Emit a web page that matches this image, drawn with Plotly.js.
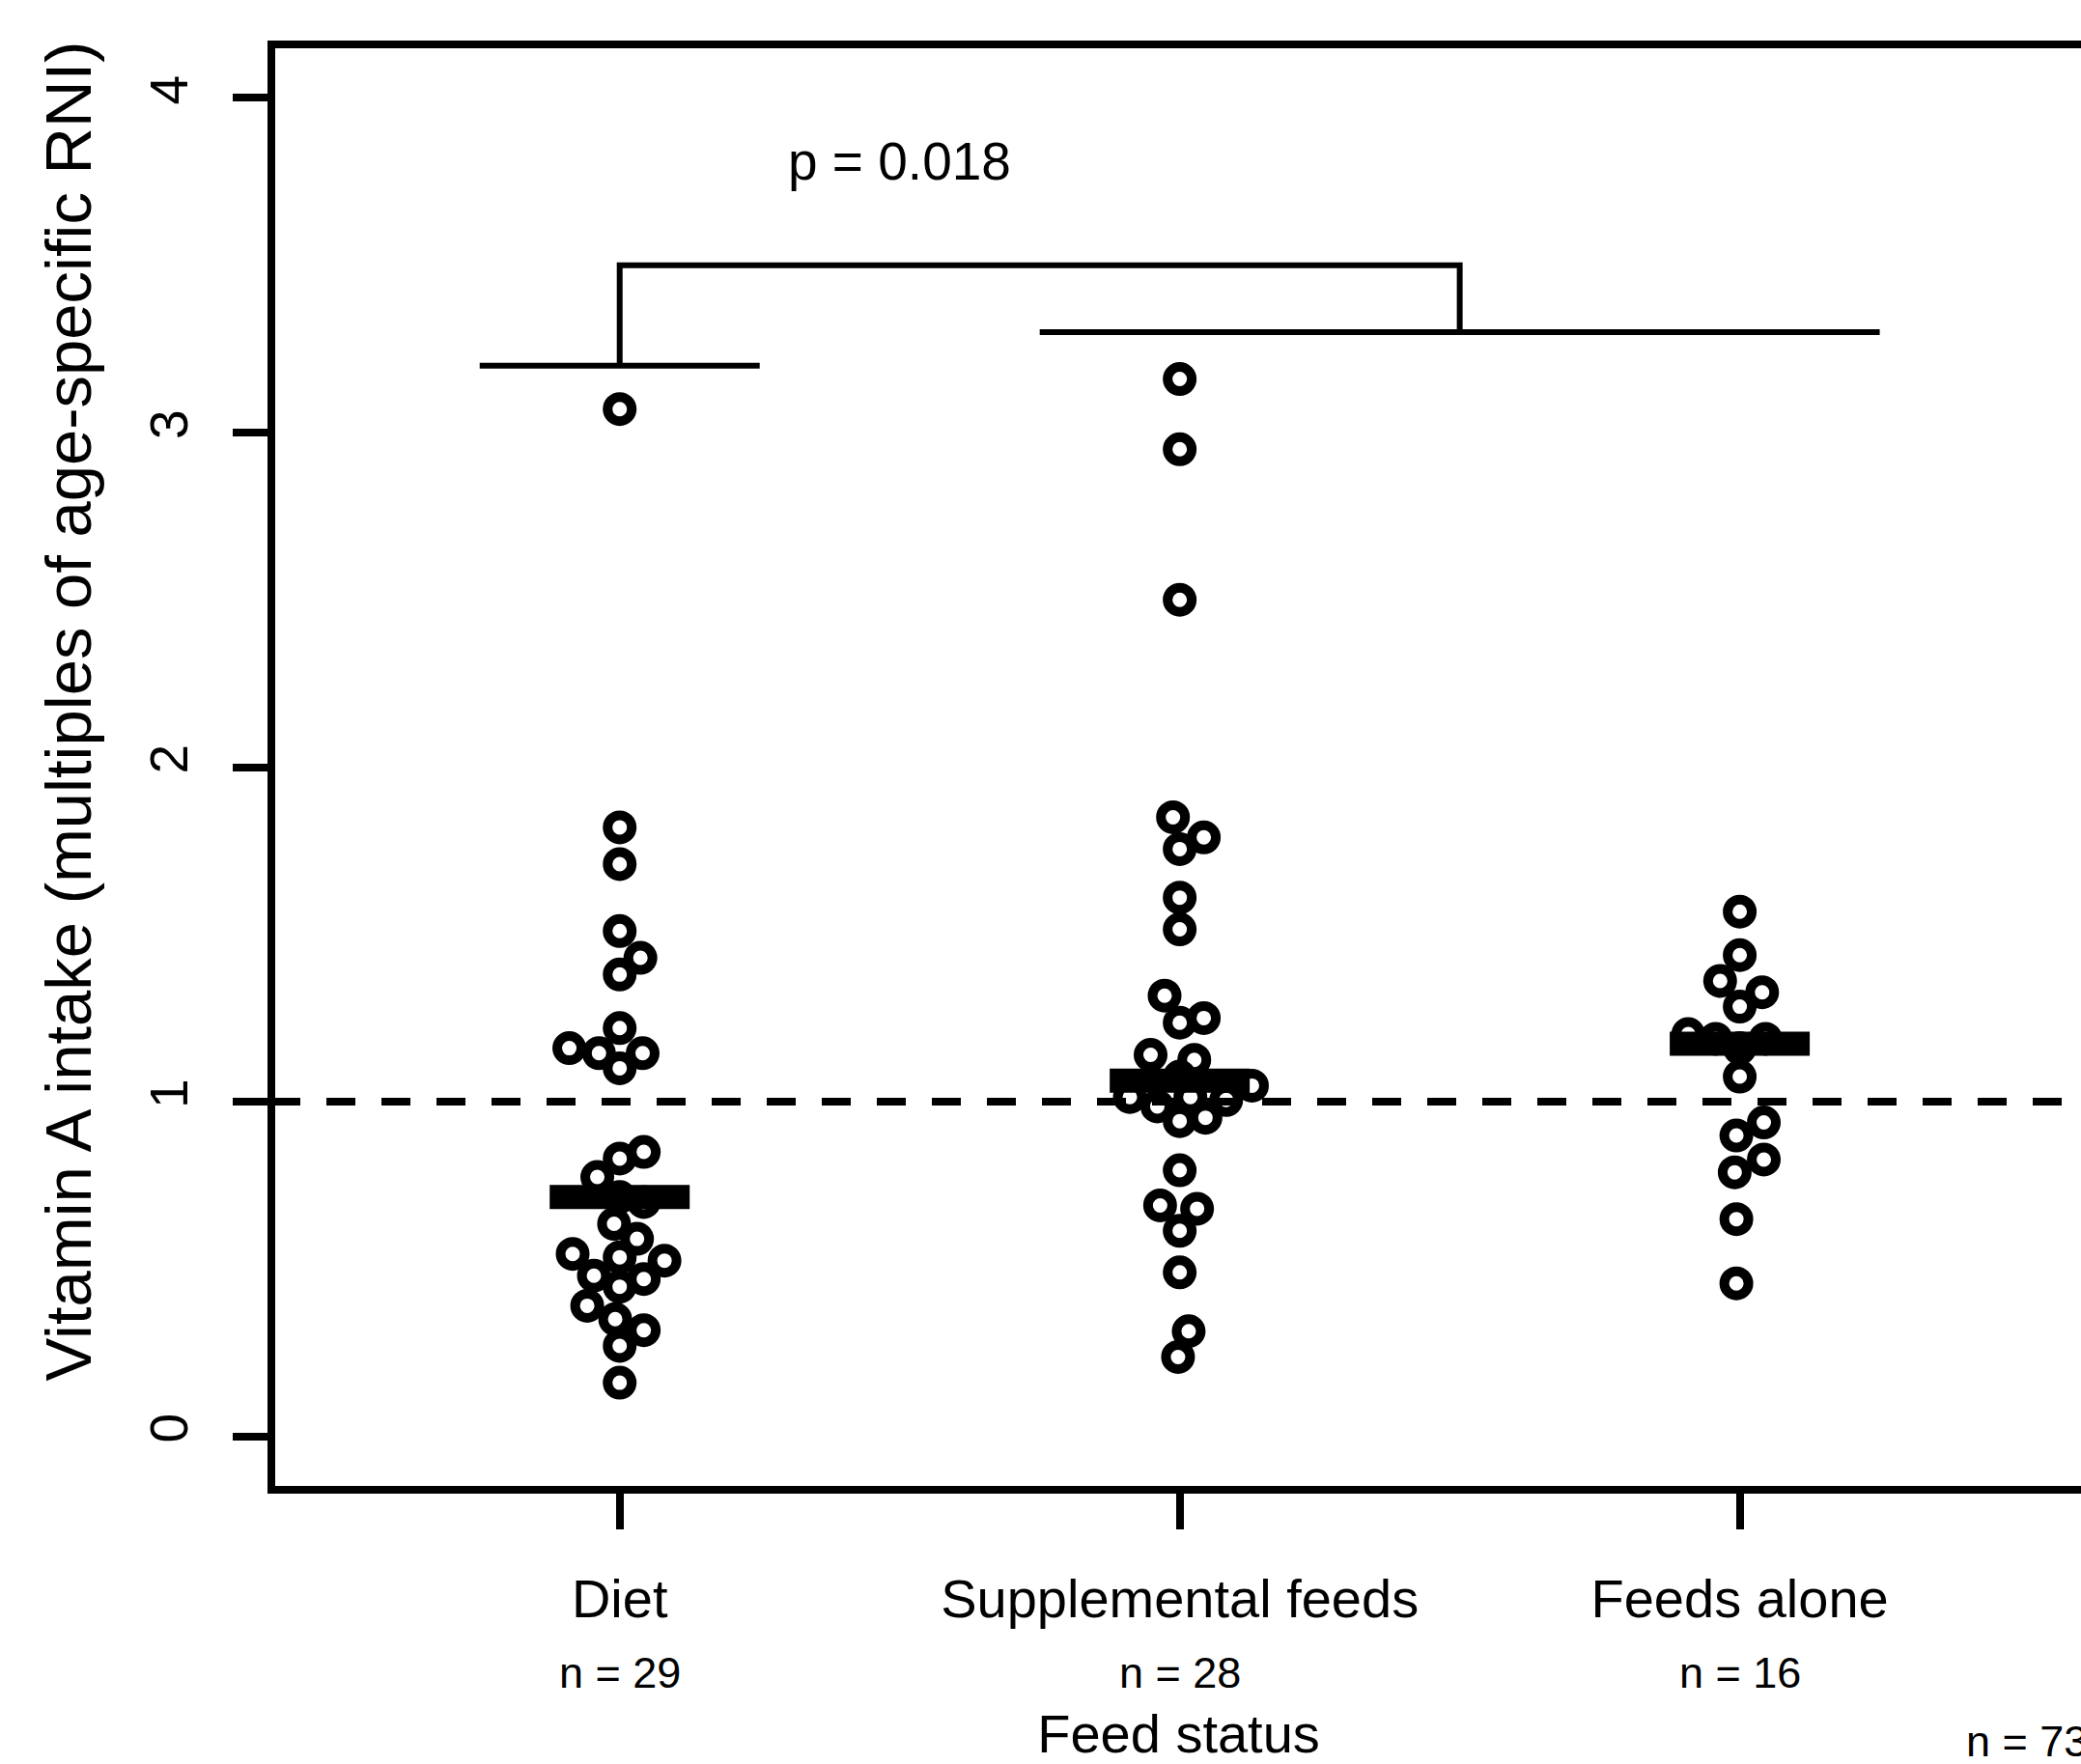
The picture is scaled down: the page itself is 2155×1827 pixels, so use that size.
<!DOCTYPE html>
<html>
<head>
<meta charset="utf-8">
<script src="https://cdn.plot.ly/plotly-3.0.1.min.js"></script>
<style>
  html, body { margin: 0; padding: 0; background: #ffffff; overflow: hidden; }
  #chart { width: 2200px; height: 1827px; }
</style>
</head>
<body>
<div id="chart"></div>
<script>
// ---------------- data ----------------
const categories = ['Diet', 'Supplemental feeds', 'Feeds alone'];
const groupCounts = ['n = 29', 'n = 28', 'n = 16'];
const totalCount = 'n = 73';
const xAxisTitle = 'Feed status';
const yAxisTitle = 'Vitamin A intake (multiples of age-specific RNI)';
const yTickValues = [0, 1, 2, 3, 4];
const referenceLevel = 1;

// Diet (n = 29): values and beeswarm offsets (in category units)
const dietValues  = [3.07, 1.82, 1.71, 1.51, 1.43, 1.38, 1.22, 1.16, 1.145, 1.145, 1.10,
                     0.85, 0.83, 0.775, 0.715, 0.70, 0.635, 0.59, 0.545, 0.535, 0.525,
                     0.48, 0.47, 0.447, 0.39, 0.35, 0.317, 0.27, 0.16];
const dietOffsets = [0, 0, 0, 0, 0.037, 0, 0, -0.090, -0.037, 0.041, 0,
                     0.043, 0, -0.040, 0, 0.043, -0.010, 0.031, -0.084, 0, 0.080,
                     -0.046, 0.043, 0, -0.058, -0.008, 0.043, 0, 0];

// Supplemental feeds (n = 28)
const suppValues  = [3.16, 2.95, 2.50, 1.85, 1.79, 1.755, 1.61, 1.515, 1.317, 1.25, 1.236,
                     1.14, 1.125, 1.075, 1.048, 1.014, 1.014, 1.005, 0.986, 0.952, 0.942,
                     0.795, 0.69, 0.68, 0.614, 0.49, 0.314, 0.237];
const suppOffsets = [0, 0, 0, -0.012, 0.043, 0, 0, 0, -0.027, 0.043, 0,
                     -0.052, 0.026, 0, 0.129, -0.089, 0.019, 0.083, -0.040, 0.046, 0,
                     0, -0.035, 0.031, 0, 0, 0.016, -0.003];

// Feeds alone (n = 16)
const feedsValues  = [1.568, 1.438, 1.361, 1.327, 1.284, 1.202, 1.188, 1.188, 1.16,
                      1.075, 0.938, 0.899, 0.827, 0.789, 0.649, 0.457];
const feedsOffsets = [0, 0, -0.035, 0.040, 0, -0.092, -0.043, 0.046, 0,
                      0, 0.043, -0.006, 0.043, -0.009, -0.006, -0.006];

const groupMedians = [0.715, 1.0625, 1.173];

// significance bracket: Diet vs. (Supplemental feeds + Feeds alone)
const pValueText = 'p = 0.018';
const bracketLeftLevel = 3.2;
const bracketRightLevel = 3.3;
const bracketTopLevel = 3.5;
const pValueLevel = 3.81;

// ---------------- build ----------------
const groups = [
  {values: dietValues, offsets: dietOffsets},
  {values: suppValues, offsets: suppOffsets},
  {values: feedsValues, offsets: feedsOffsets}
];

const FONT = 'Liberation Sans, Arial, Helvetica, sans-serif';
const medianHalfWidth = 0.125;
const bracketHalf = 0.25;

const traces = groups.map((g, i) => ({
  type: 'scatter',
  mode: 'markers',
  name: categories[i],
  x: g.offsets.map(o => (i + 1) + o),
  y: g.values,
  marker: {symbol: 'circle-open', size: 25, color: '#000000', line: {width: 10, color: '#000000'}},
  hoverinfo: 'skip',
  cliponaxis: false
}));

const shapes = [];
// reference line at RNI = 1
shapes.push({type: 'line', xref: 'paper', yref: 'y', x0: 0, x1: 1, y0: referenceLevel, y1: referenceLevel,
  line: {color: '#000000', width: 8, dash: '30px,27px'}, layer: 'below'});
// median bars
groupMedians.forEach((m, i) => {
  shapes.push({type: 'line', xref: 'x', yref: 'y', x0: i + 1 - medianHalfWidth, x1: i + 1 + medianHalfWidth,
    y0: m, y1: m, line: {color: '#000000', width: 25}});
});
// bracket
const leftCenter = 1;
const rightCenter = 2.5;
shapes.push({type: 'line', xref: 'x', yref: 'y', x0: leftCenter - bracketHalf, x1: leftCenter + bracketHalf,
  y0: bracketLeftLevel, y1: bracketLeftLevel, line: {color: '#000000', width: 6}});
shapes.push({type: 'line', xref: 'x', yref: 'y', x0: 2 - bracketHalf, x1: 3 + bracketHalf,
  y0: bracketRightLevel, y1: bracketRightLevel, line: {color: '#000000', width: 6}});
shapes.push({type: 'path', xref: 'x', yref: 'y',
  path: 'M ' + leftCenter + ',' + bracketLeftLevel + ' L ' + leftCenter + ',' + bracketTopLevel +
        ' L ' + rightCenter + ',' + bracketTopLevel + ' L ' + rightCenter + ',' + bracketRightLevel,
  line: {color: '#000000', width: 6}});
// frame
shapes.push({type: 'rect', xref: 'paper', yref: 'paper', x0: 0, x1: 1, y0: 0, y1: 1,
  line: {color: '#000000', width: 8}, fillcolor: 'rgba(0,0,0,0)', layer: 'above'});

const annotations = [];
groupCounts.forEach((t, i) => {
  annotations.push({text: t, xref: 'x', yref: 'paper', x: i + 1, y: -0.1267,
    xanchor: 'center', yanchor: 'middle', showarrow: false, font: {family: FONT, size: 45, color: '#000000'}});
});
annotations.push({text: totalCount, xref: 'paper', yref: 'paper', x: 0.9329, y: -0.1741,
  xanchor: 'left', yanchor: 'middle', showarrow: false, font: {family: FONT, size: 45, color: '#000000'}});
annotations.push({text: pValueText, xref: 'x', yref: 'y', x: 1.5, y: pValueLevel,
  xanchor: 'center', yanchor: 'middle', showarrow: false, font: {family: FONT, size: 55, color: '#000000'}});
annotations.push({text: yAxisTitle, xref: 'paper', yref: 'paper', x: -0.112, y: 0.5385, textangle: -90,
  xanchor: 'center', yanchor: 'middle', showarrow: false, font: {family: FONT, size: 67, color: '#000000'}});

const layout = {
  width: 2200,
  height: 1827,
  margin: {l: 281, r: 40, t: 46, b: 284, pad: 0},
  paper_bgcolor: '#ffffff',
  plot_bgcolor: '#ffffff',
  showlegend: false,
  hovermode: false,
  font: {family: FONT, color: '#000000'},
  xaxis: {
    range: [0.378, 3.618],
    tickmode: 'array',
    tickvals: [1, 2, 3],
    ticktext: categories,
    ticks: 'outside', ticklen: 40, tickwidth: 8, tickcolor: '#000000',
    ticklabelstandoff: 24,
    tickfont: {family: FONT, size: 56, color: '#000000'},
    showgrid: false, zeroline: false, showline: false,
    automargin: false,
    title: {text: xAxisTitle, font: {family: FONT, size: 56, color: '#000000'}, standoff: 96}
  },
  yaxis: {
    range: [-0.16, 4.16],
    tickmode: 'array',
    tickvals: yTickValues,
    ticktext: yTickValues.map(String),
    ticks: 'outside', ticklen: 39, tickwidth: 8, tickcolor: '#000000',
    tickangle: -90,
    ticklabelstandoff: 25,
    tickfont: {family: FONT, size: 55, color: '#000000'},
    showgrid: false, zeroline: false, showline: false,
    automargin: false
  },
  shapes: shapes,
  annotations: annotations
};

Plotly.newPlot('chart', traces, layout, {displayModeBar: false, staticPlot: true});
</script>
</body>
</html>
